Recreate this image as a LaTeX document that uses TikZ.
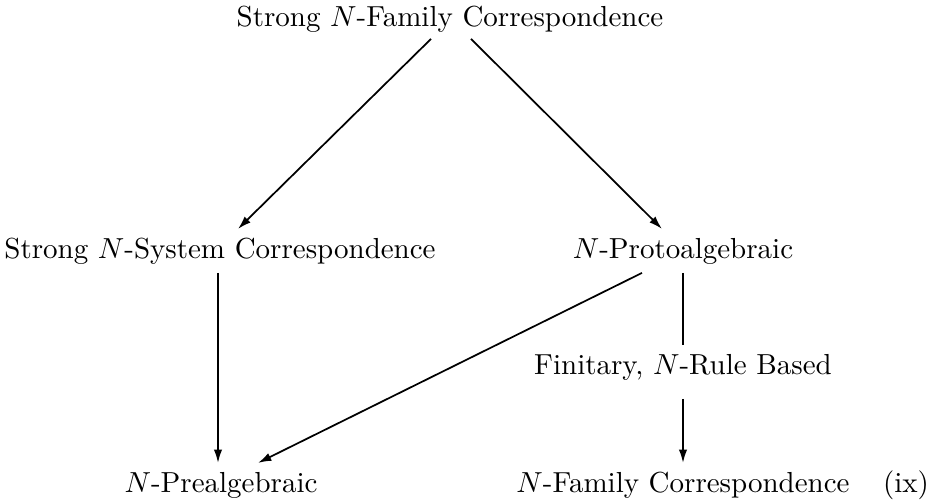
\documentclass[tikz,border=0pt]{standalone}
\usetikzlibrary{arrows.meta,calc}
\begin{document}
\begin{tikzpicture}[x=0.345pt,y=-0.345pt,
  lbl/.style={anchor=base,inner xsep=0pt,inner ysep=3pt,text height=6.83pt,text depth=1.94pt,font=\fontsize{10pt}{12pt}\selectfont},
  arr/.style={line width=0.6pt,-{Latex[length=4.6pt,width=2.9pt]}},
  ln/.style={line width=0.6pt}]
\useasboundingbox (0,0) rectangle (937,501);
\node[lbl] (T) at (450,27) {Strong $N$-Family Correspondence};
\node[lbl] (A) at (220,258) {Strong $N$-System Correspondence};
\node[lbl] (B) at (683,258) {$N$-Protoalgebraic};
\node[lbl] (F) at (683,374) {Finitary, $N$-Rule Based};
\node[lbl] (P) at (221,492) {$N$-Prealgebraic};
\node[lbl] (Q) at (683,492) {$N$-Family Correspondence};
\node[lbl] (tag) at (906,492) {(ix)};
\coordinate (a0) at ($(A.south)+(-2,0)$);
\draw[arr] ($(T.south)+(-19,-3)$) -- ($(A.north)+(18,0)$);
\draw[arr] ($(T.south)+(21,-3)$) -- ($(B.north)+(-21,0)$);
\draw[arr] (a0) -- (a0 |- P.north);
\draw[arr] ($(B.south)+(-41,0)$) -- ($(P.north)+(37,0)$);
\draw[ln] (B.south) -- (F.north);
\draw[arr] ($(F.south)+(0,10)$) -- (Q.north);
\end{tikzpicture}
\end{document}
